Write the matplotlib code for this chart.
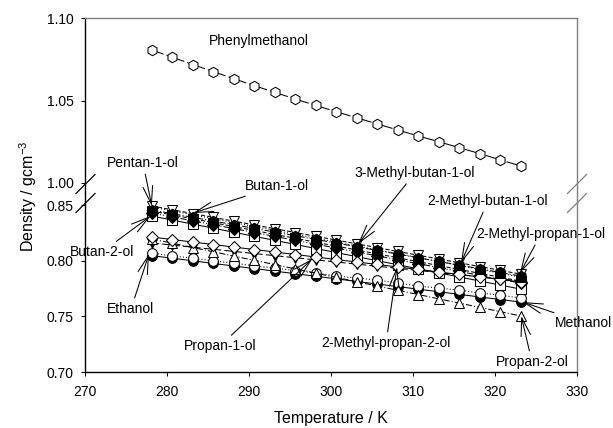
import matplotlib
matplotlib.use('Agg')
import matplotlib.pyplot as plt
from matplotlib.lines import Line2D

plt.rcParams['font.family'] = ['Liberation Sans', 'DejaVu Sans']
plt.rcParams['mathtext.default'] = 'regular'

# ---------------- data ----------------
temperature = [278.15, 280.65, 283.15, 285.65, 288.15, 290.65, 293.15, 295.65, 298.15,
               300.65, 303.15, 305.65, 308.15, 310.65, 313.15, 315.65, 318.15, 320.65, 323.15]

methanol = [0.8045, 0.8022, 0.7999, 0.7975, 0.7952, 0.7929, 0.7906, 0.7883, 0.7860, 0.7837,
            0.7813, 0.7790, 0.7767, 0.7744, 0.7721, 0.7697, 0.7674, 0.7651, 0.7628]
ethanol = [0.8069, 0.8042, 0.8024, 0.7997, 0.7979, 0.7952, 0.7934, 0.7911, 0.7889, 0.7862,
           0.7844, 0.7826, 0.7799, 0.7772, 0.7754, 0.7736, 0.7709, 0.7691, 0.7664]
propan_1_ol = [0.8159, 0.8140, 0.8121, 0.8102, 0.8083, 0.8064, 0.8045, 0.8026, 0.8007, 0.7988,
               0.7969, 0.7950, 0.7931, 0.7912, 0.7893, 0.7874, 0.7855, 0.7836, 0.7817]
propan_2_ol = [0.8195, 0.8157, 0.8118, 0.8080, 0.8041, 0.8003, 0.7965, 0.7926, 0.7888, 0.7849,
               0.7811, 0.7772, 0.7734, 0.7696, 0.7657, 0.7619, 0.7580, 0.7542, 0.7503]
butan_1_ol = [0.8446, 0.8411, 0.8376, 0.8341, 0.8306, 0.8271, 0.8236, 0.8201, 0.8166, 0.8131,
              0.8096, 0.8061, 0.8026, 0.7991, 0.7956, 0.7921, 0.7886, 0.7851, 0.7816]
butan_2_ol = [0.8401, 0.8365, 0.8328, 0.8292, 0.8255, 0.8219, 0.8182, 0.8146, 0.8109, 0.8073,
              0.8036, 0.8000, 0.7963, 0.7927, 0.7890, 0.7854, 0.7817, 0.7781, 0.7744]
methyl_propan_1_ol = [0.8428, 0.8393, 0.8358, 0.8323, 0.8288, 0.8253, 0.8218, 0.8183, 0.8148, 0.8113,
                      0.8078, 0.8043, 0.8008, 0.7973, 0.7938, 0.7903, 0.7868, 0.7833, 0.7798]
methyl_propan_2_ol = [0.8212, 0.8190, 0.8167, 0.8145, 0.8122, 0.8100, 0.8078, 0.8055, 0.8033, 0.8010,
                      0.7988, 0.7966, 0.7943, 0.7921, 0.7898, 0.7876, 0.7854, 0.7831, 0.7809]
pentan_1_ol = [0.8482, 0.8447, 0.8412, 0.8377, 0.8342, 0.8307, 0.8272, 0.8237, 0.8202, 0.8167,
               0.8132, 0.8097, 0.8062, 0.8027, 0.7992, 0.7957, 0.7922, 0.7887, 0.7852]
methyl_butan_3_ol = [0.8491, 0.8457, 0.8423, 0.8389, 0.8355, 0.8321, 0.8287, 0.8253, 0.8219, 0.8185,
                     0.8151, 0.8117, 0.8083, 0.8049, 0.8015, 0.7981, 0.7947, 0.7913, 0.7879]
methyl_butan_2_ol = [0.8455, 0.8422, 0.8389, 0.8356, 0.8323, 0.8290, 0.8257, 0.8224, 0.8191, 0.8158,
                     0.8125, 0.8092, 0.8059, 0.8026, 0.7993, 0.7960, 0.7927, 0.7894, 0.7861]
phenylmethanol = [1.0806, 1.0762, 1.0718, 1.0675, 1.0632, 1.0590, 1.0549, 1.0509, 1.0470, 1.0432,
                  1.0395, 1.0358, 1.0321, 1.0285, 1.0250, 1.0214, 1.0178, 1.0140, 1.0103]

lower_series = [methanol, ethanol, propan_1_ol, propan_2_ol, butan_1_ol, butan_2_ol,
                methyl_propan_1_ol, methyl_propan_2_ol, pentan_1_ol, methyl_butan_3_ol,
                methyl_butan_2_ol]

x_ticks = [270, 280, 290, 300, 310, 320, 330]
y_ticks_low = [0.70, 0.75, 0.80, 0.85]
y_ticks_high = [1.00, 1.05, 1.10]

# ---------------- styles ----------------
styles = [
    dict(marker='o', mfc='black', ms=7, ls='-'),
    dict(marker='o', mfc='white', ms=7, ls=(0, (1, 2))),
    dict(marker='v', mfc='black', ms=7.5, ls=(0, (7, 3))),
    dict(marker='^', mfc='white', ms=7.5, ls=(0, (6, 2, 1, 2))),
    dict(marker='s', mfc='black', ms=6.5, ls=(0, (4, 2))),
    dict(marker='s', mfc='white', ms=6.5, ls='-'),
    dict(marker='D', mfc='black', ms=6, ls=(0, (6, 2, 1, 2, 1, 2))),
    dict(marker='D', mfc='white', ms=6, ls='-'),
    dict(marker='^', mfc='black', ms=7.5, ls=(0, (1, 2))),
    dict(marker='v', mfc='white', ms=7.5, ls=(0, (4, 2))),
    dict(marker='h', mfc='black', ms=7.5, ls=(0, (6, 2, 1, 2))),
]

fig = plt.figure(figsize=(6.13, 4.28), dpi=100)
L, W = 85 / 613, 492 / 613
ax_top = fig.add_axes([L, 1 - 193 / 428, W, (193 - 18) / 428])
ax_bot = fig.add_axes([L, 1 - 372 / 428, W, (372 - 193) / 428])

for i, (vals, st) in enumerate(zip(lower_series, styles)):
    ax_bot.plot(temperature, vals, color='black', lw=0.75, ls=st['ls'], marker=st['marker'],
                ms=st['ms'], mfc=st['mfc'], mec='black', mew=0.75, zorder=2 + i)

ax_top.plot(temperature, phenylmethanol, color='black', lw=0.75, ls=(0, (12, 3, 3, 3)),
            marker='h', ms=7.5, mfc='white', mec='black', mew=0.75, zorder=3)

ax_top.set_xlim(270, 330)
ax_bot.set_xlim(270, 330)
ax_top.set_ylim(1.00 - 10 / 1650, 1.10)
ax_bot.set_ylim(0.70, 0.85 + 12 / 1113)

ax_bot.set_xticks(x_ticks)
ax_bot.set_xticklabels([str(t) for t in x_ticks])
ax_bot.set_yticks(y_ticks_low)
ax_bot.set_yticklabels(['%.2f' % v for v in y_ticks_low])
ax_top.set_yticks(y_ticks_high)
ax_top.set_yticklabels(['%.2f' % v for v in y_ticks_high])
ax_top.set_xticks([])

for ax in (ax_top, ax_bot):
    ax.tick_params(direction='out', length=3, width=0.75, labelsize=10, pad=5,
                   right=False, top=False)
    ax.spines['left'].set_color('black')
    ax.spines['right'].set_color('#808080')
    ax.spines['top'].set_color('#808080')
    for s in ax.spines.values():
        s.set_linewidth(1.0)
ax_top.spines['bottom'].set_visible(False)
ax_bot.spines['top'].set_visible(False)
ax_bot.spines['bottom'].set_color('black')
ax_bot.tick_params(axis='x', pad=6)

# break marks
for xc, col in ((85.5, 'black'), (577, '#808080')):
    for yc in (184, 203):
        x0, x1 = xc - 9.5, xc + 9.5
        y0, y1 = yc + 9.5, yc - 9.5
        fig.add_artist(Line2D([x0 / 613, x1 / 613], [1 - y0 / 428, 1 - y1 / 428],
                              transform=fig.transFigure, color=col, lw=0.9))

fig.text(331 / 613, 1 - 419 / 428, 'Temperature / K', ha='center', va='center', fontsize=11.5)
fig.text(28 / 613, 1 - 196 / 428, 'Density / gcm$^{-3}$', ha='center', va='center',
         rotation=90, fontsize=11.5)

ax_top.text(259 / 613, 1 - 41 / 428, 'Phenylmethanol', transform=fig.transFigure,
            ha='center', va='center', fontsize=10)

arrow = dict(arrowstyle='->,head_length=1.3,head_width=0.35', color='black', lw=0.75,
             shrinkA=1, shrinkB=0, mutation_scale=10)
annotations = [
    ('Pentan-1-ol', (278.15, 0.849), (143, 163)),
    ('Butan-1-ol', (283.2, 0.8428), (277, 186)),
    ('Butan-2-ol', (278.0, 0.8401), (102, 252)),
    ('Ethanol', (277.8, 0.806), (131, 309)),
    ('Propan-1-ol', (297.7, 0.8015), (220, 346)),
    ('3-Methyl-butan-1-ol', (303.3, 0.815), (415, 173)),
    ('2-Methyl-butan-1-ol', (315.85, 0.7979), (488, 201)),
    ('2-Methyl-propan-1-ol', (323.05, 0.7889), (541, 234)),
    ('Methanol', (323.4, 0.7628), (584, 323)),
    ('Propan-2-ol', (323.2, 0.7503), (532, 362)),
    ('2-Methyl-propan-2-ol', (308.05, 0.7943), (386, 343)),
]
for label, xy, (px, py) in annotations:
    ax_bot.annotate(label, xy=xy, xycoords='data', xytext=(px, 428 - py),
                    textcoords='figure pixels', ha='center', va='center', fontsize=10,
                    arrowprops=arrow, annotation_clip=False, zorder=20)

fig.savefig('out.png', dpi=100)
